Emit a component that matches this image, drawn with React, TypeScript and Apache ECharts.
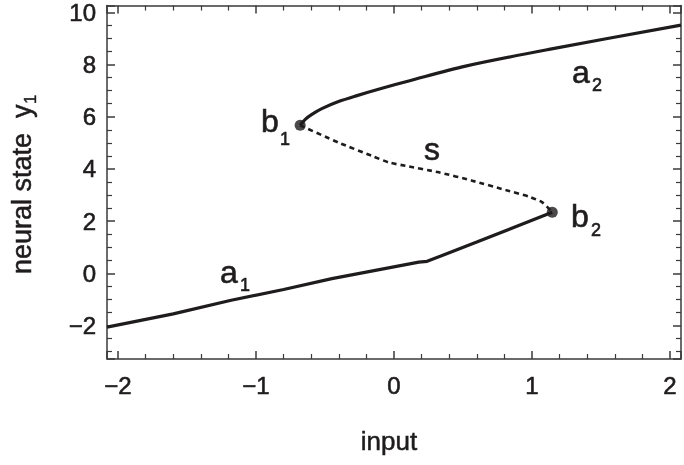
import React, { useEffect, useRef } from "react";
import * as echarts from "echarts";

// Lower stable branch a1 (from left edge to fold point b2)
const a1X = [-2.08, -1.6, -1.18, -0.8, -0.45, 0.18, 0.24, 0.6, 1.147];
const a1Y = [-2.06, -1.55, -1.03, -0.62, -0.2, 0.43, 0.46, 1.2, 2.34];

// Upper stable branch a2 (from fold point b1 to right edge)
const a2X = [-0.68, -0.643, -0.595, -0.523, -0.402, -0.28, -0.087, 0.107, 0.519, 1.123, 2.08];
const a2Y = [5.67, 5.9, 6.09, 6.31, 6.58, 6.79, 7.09, 7.37, 7.94, 8.58, 9.51];

// Unstable middle branch s (dashed), from b1 to b2
const sX = [-0.68, -0.402, -0.16, -0.038, 0.083, 0.325, 0.566, 0.809, 0.978, 1.075, 1.147];
const sY = [5.67, 5.01, 4.5, 4.25, 4.12, 3.87, 3.55, 3.19, 2.94, 2.72, 2.34];

// Fold (bifurcation) points b1, b2
const foldX = [-0.68, 1.147];
const foldY = [5.67, 2.34];

const xRange = [-2.08, 2.08];
const yRange = [-3.28, 10.26];

const FONT = "Liberation Sans, Arial, Helvetica, sans-serif";
const INK = "#1e1c1d";
const FRAME = "#3a3a3a";

function pairs(xs: number[], ys: number[]) {
  return xs.map((x, i) => [x, ys[i]]);
}

function fmt(v: number) {
  if (Math.abs(v - Math.round(v)) > 1e-6) return "";
  const r = Math.round(v);
  return r < 0 ? "\u2212" + Math.abs(r) : String(r);
}

function axisLine() {
  return { show: true, onZero: false, lineStyle: { color: FRAME, width: 1.5 } };
}
function axisTick() {
  return { show: true, inside: true, length: 8, lineStyle: { color: FRAME, width: 1.5 } };
}
function minorTick(n: number) {
  return { show: true, splitNumber: n, length: 5, lineStyle: { color: FRAME, width: 1.2 } };
}
function splitLine() {
  return { show: true, lineStyle: { color: "rgba(0,0,0,0)", width: 0 } };
}
function tickLabel(margin: number) {
  return {
    show: true,
    margin,
    color: INK,
    fontSize: 24,
    fontFamily: FONT,
    textBorderColor: INK,
    textBorderWidth: 0.6,
    formatter: fmt,
  };
}

export default function App() {
  const ref = useRef<HTMLDivElement>(null);
  useEffect(() => {
    if (!ref.current) return;
    const chart = echarts.init(ref.current, undefined, { renderer: "svg" });
    const letter = (text: string, x: number, y: number, size: number) => ({
      type: "text",
      x,
      y,
      style: {
        text,
        fill: INK,
        stroke: INK,
        lineWidth: 0.6,
        font: `${size}px ${FONT}`,
        textAlign: "left",
        textVerticalAlign: "bottom",
      },
    });
    chart.setOption({
      animation: false,
      grid: { left: 107, right: 3, top: 4, bottom: 106 },
      xAxis: [
        {
          type: "value",
          min: xRange[0],
          max: xRange[1],
          axisLine: axisLine(),
          axisTick: axisTick(),
          minorTick: minorTick(5),
          splitLine: splitLine(),
          axisLabel: tickLabel(14),
        },
        {
          type: "value",
          min: xRange[0],
          max: xRange[1],
          position: "top",
          axisLine: axisLine(),
          axisTick: axisTick(),
          minorTick: minorTick(5),
          splitLine: splitLine(),
          axisLabel: { show: false },
        },
      ],
      yAxis: [
        {
          type: "value",
          min: yRange[0],
          max: yRange[1],
          splitNumber: 7,
          axisLine: axisLine(),
          axisTick: axisTick(),
          minorTick: minorTick(4),
          splitLine: splitLine(),
          axisLabel: tickLabel(11),
        },
        {
          type: "value",
          min: yRange[0],
          max: yRange[1],
          splitNumber: 7,
          position: "right",
          axisLine: axisLine(),
          axisTick: axisTick(),
          minorTick: minorTick(4),
          splitLine: splitLine(),
          axisLabel: { show: false },
        },
      ],
      series: [
        {
          type: "line",
          data: pairs(a1X, a1Y),
          showSymbol: false,
          lineStyle: { color: INK, width: 3.2 },
          silent: true,
        },
        {
          type: "line",
          data: pairs(a2X, a2Y),
          showSymbol: false,
          smooth: 0.3,
          lineStyle: { color: INK, width: 3.2 },
          silent: true,
        },
        {
          type: "line",
          data: pairs(sX, sY),
          showSymbol: false,
          smooth: 0.2,
          lineStyle: { color: INK, width: 2.6, type: [5, 4] },
          silent: true,
        },
        {
          type: "scatter",
          data: pairs(foldX, foldY),
          symbol: "circle",
          symbolSize: 11,
          itemStyle: { color: INK },
          silent: true,
        },
      ],
      graphic: [
        letter("a", 572, 88, 32),
        letter("2", 592, 94, 18),
        letter("b", 261, 137, 32),
        letter("1", 280, 148, 18),
        letter("s", 424, 165, 32),
        letter("b", 571, 232, 32),
        letter("2", 591, 239, 18),
        letter("a", 220, 288, 32),
        letter("1", 240, 294, 18),
        {
          type: "text",
          x: 389,
          y: 441,
          style: {
            text: "input",
            fill: INK,
            stroke: INK,
            lineWidth: 0.5,
            font: `26px ${FONT}`,
            textAlign: "center",
            textVerticalAlign: "middle",
          },
        },
        {
          type: "group",
          x: 22,
          y: 178,
          rotation: Math.PI / 2,
          children: [
            {
              type: "text",
              x: -96,
              y: 0,
              style: {
                text: "neural state  y",
                fill: INK,
                stroke: INK,
                lineWidth: 0.5,
                font: `27px ${FONT}`,
                textAlign: "left",
                textVerticalAlign: "middle",
              },
            },
            {
              type: "text",
              x: 74,
              y: 8,
              style: {
                text: "1",
                fill: INK,
                stroke: INK,
                lineWidth: 0.4,
                font: `17px ${FONT}`,
                textAlign: "left",
                textVerticalAlign: "middle",
              },
            },
          ],
        },
      ],
    });
    return () => chart.dispose();
  }, []);
  return (
    <div
      ref={ref}
      style={{ position: "fixed", left: 0, top: 0, width: 684, height: 465 }}
    />
  );
}
